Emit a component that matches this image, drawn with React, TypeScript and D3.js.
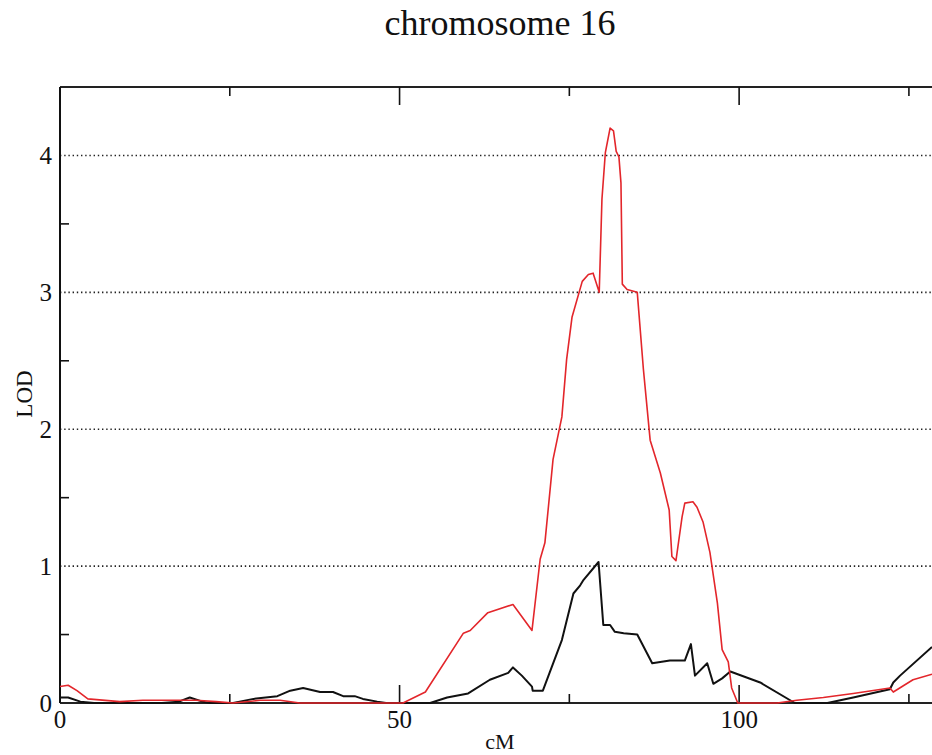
import React from 'react';
import { scaleLinear, line } from 'd3';

const width = 932;
const height = 755;
const margins = { top: 87, bottom: 52, left: 60, right: 0 };

const xMajorTicks = [0, 50, 100];
const xMinorTicks = [25, 75, 125];
const yMajorTicks = [0, 1, 2, 3, 4];
const yMinorTicks = [0.5, 1.5, 2.5, 3.5];
const gridLines = [1, 2, 3, 4];

// [cM, LOD]
const redSeries: [number, number][] = [
  [0, 0.12], [1.2, 0.13], [2.5, 0.09], [4.1, 0.03], [8.8, 0.01], [12.2, 0.02], [16, 0.02],
  [20, 0.02], [23, 0.01], [25.5, 0], [29.5, 0.02], [32.4, 0.02], [35.3, 0], [50.5, 0],
  [53.8, 0.08], [59.4, 0.51], [60.4, 0.53], [63, 0.66], [66.7, 0.72], [69.5, 0.53],
  [70.7, 1.05], [71.4, 1.17], [72.6, 1.78], [73.9, 2.09], [74.6, 2.51], [75.4, 2.82],
  [76.9, 3.08], [77.8, 3.13], [78.5, 3.14], [79.4, 3.0], [79.8, 3.68], [80.3, 4.02],
  [81, 4.2], [81.5, 4.18], [81.9, 4.03], [82.3, 3.99], [82.6, 3.8], [82.8, 3.06],
  [83.5, 3.02], [85, 3.0], [85.9, 2.44], [86.9, 1.92], [88.4, 1.68], [89.7, 1.41],
  [90.1, 1.07], [90.7, 1.04], [91.6, 1.36], [92, 1.46], [93.2, 1.47], [93.8, 1.43],
  [94.7, 1.32], [95.7, 1.1], [96.8, 0.73], [97.5, 0.39], [98.4, 0.3], [98.9, 0.11],
  [99.8, 0], [105.6, 0], [108.5, 0.02], [112.4, 0.04], [116.8, 0.07], [122.2, 0.11],
  [122.7, 0.08], [125.6, 0.17], [128.4, 0.21],
];

const blackSeries: [number, number][] = [
  [0, 0.04], [1.2, 0.04], [3, 0.01], [5, 0], [15, 0], [17.5, 0.01], [19.1, 0.04], [21, 0.01],
  [22, 0], [25.5, 0], [28.5, 0.03], [32, 0.05], [33.9, 0.09], [35.8, 0.11], [38.3, 0.08],
  [40.2, 0.08], [41.7, 0.05], [43.4, 0.05], [44.6, 0.03], [46.7, 0.01], [48, 0], [54.5, 0],
  [57, 0.04], [60.1, 0.07], [63.3, 0.17], [66, 0.22], [66.7, 0.26], [68, 0.2], [69.5, 0.12],
  [69.6, 0.09], [71.1, 0.09], [73.9, 0.46], [75.6, 0.8], [76.6, 0.86], [77.1, 0.9],
  [79.3, 1.03], [80, 0.57], [81, 0.57], [81.7, 0.52], [83, 0.51], [85, 0.5], [87.2, 0.29],
  [89.8, 0.31], [92, 0.31], [92.9, 0.43], [93.5, 0.2], [95.3, 0.29], [96.2, 0.14],
  [97.5, 0.18], [98.7, 0.23], [103.1, 0.15], [108.2, 0], [113, 0], [116.8, 0.04],
  [122.2, 0.1], [122.7, 0.15], [123.7, 0.2], [128.4, 0.41],
];

const font = '"Liberation Serif", "DejaVu Serif", serif';

export default function App() {
  const x = scaleLinear().domain([0, 128.4]).range([margins.left, width - margins.right]);
  const y = scaleLinear().domain([0, 4.5]).range([height - margins.bottom, margins.top]);
  const path = line<[number, number]>()
    .x((d) => x(d[0]))
    .y((d) => y(d[1]));
  const y0 = y(0);

  return (
    <svg width={width} height={height} style={{ display: 'block', background: '#fff' }}>
      <style>{'body{margin:0}'}</style>
      <text x={500} y={35} textAnchor="middle" fontFamily={font} fontSize={36} fill="#111">
        chromosome 16
      </text>

      {/* dotted grid */}
      {gridLines.map((g) => (
        <line key={'g' + g} x1={x(0)} x2={width} y1={y(g)} y2={y(g)}
          stroke="#222" strokeWidth={1.6} strokeDasharray="1.4,2.8" />
      ))}

      {/* frame */}
      <line x1={x(0)} x2={width} y1={margins.top} y2={margins.top} stroke="#222" strokeWidth={2} />
      <line x1={x(0)} x2={width} y1={y0} y2={y0} stroke="#222" strokeWidth={2} />
      <line x1={x(0)} x2={x(0)} y1={margins.top} y2={y0} stroke="#111" strokeWidth={2} />

      {/* x ticks */}
      {xMajorTicks.map((t) => (
        <g key={'xm' + t}>
          <line x1={x(t)} x2={x(t)} y1={y0} y2={y0 - 18} stroke="#111" strokeWidth={1.6} />
          <line x1={x(t)} x2={x(t)} y1={margins.top} y2={margins.top + 18} stroke="#111" strokeWidth={1.6} />
          <text x={x(t)} y={728} textAnchor="middle" fontFamily={font} fontSize={25} fill="#111">{t}</text>
        </g>
      ))}
      {xMinorTicks.map((t) => (
        <g key={'xn' + t}>
          <line x1={x(t)} x2={x(t)} y1={y0} y2={y0 - 9} stroke="#111" strokeWidth={1.6} />
          <line x1={x(t)} x2={x(t)} y1={margins.top} y2={margins.top + 9} stroke="#111" strokeWidth={1.6} />
        </g>
      ))}

      {/* y ticks */}
      {yMajorTicks.map((t) => (
        <text key={'yl' + t} x={52} y={y(t)} dy="0.35em" textAnchor="end" fontFamily={font} fontSize={25} fill="#111">{t}</text>
      ))}
      {yMinorTicks.map((t) => (
        <line key={'yn' + t} x1={x(0)} x2={x(0) + 9} y1={y(t)} y2={y(t)} stroke="#111" strokeWidth={1.6} />
      ))}

      {/* series */}
      <path d={path(blackSeries) || ''} fill="none" stroke="#111" strokeWidth={2} strokeLinejoin="round" />
      <path d={path(redSeries) || ''} fill="none" stroke="#e3262b" strokeWidth={1.6} strokeLinejoin="round" />

      <text transform={`translate(32,394) rotate(-90)`} textAnchor="middle" fontFamily={font} fontSize={23} fill="#111">LOD</text>
      <text x={500} y={749} textAnchor="middle" fontFamily={font} fontSize={22} fill="#111">cM</text>
    </svg>
  );
}
